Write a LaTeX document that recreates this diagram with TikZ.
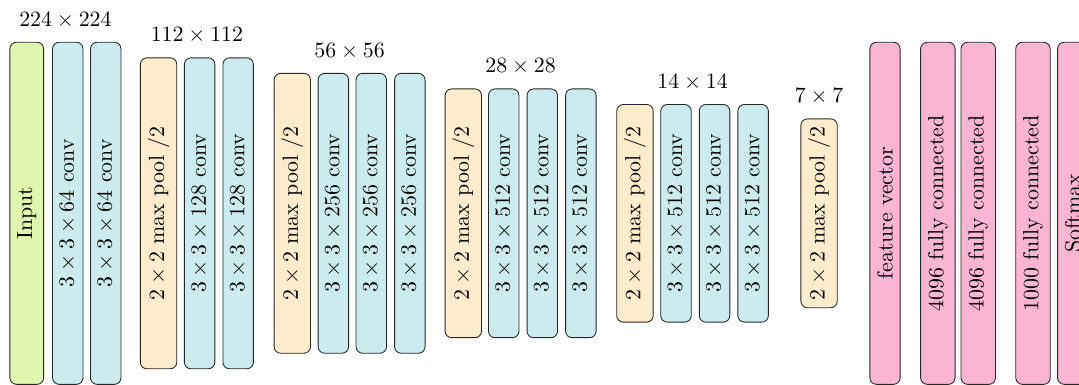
\documentclass[tikz,border=0pt]{standalone}
\usepackage{tikz}
\usetikzlibrary{calc}

\definecolor{inputcol}{RGB}{224,245,174}
\definecolor{convcol}{RGB}{204,235,238}
\definecolor{poolcol}{RGB}{255,236,204}
\definecolor{fccol}{RGB}{250,181,211}

\tikzstyle{layer}=[draw=black!85, rotate=90, rounded corners=3pt, align=center]
\tikzstyle{inlayer}=[layer, fill=inputcol]
\tikzstyle{conv}=[layer, fill=convcol]
\tikzstyle{pool}=[layer, fill=poolcol]
\tikzstyle{fc}=[layer, fill=fccol]
\tikzstyle{size}=[font=\normalsize]

\begin{document}
\begin{tikzpicture}

    \useasboundingbox (0,-2.76) rectangle (17.35,3.43);
    \clip (0,-2.76) rectangle (17.35,3.43);

    \node[inlayer, minimum width=5.5cm] (in) at (0.43,0) {Input};

    % conv blocks
    \foreach \x/\len/\name/\ch in {1.09/5.5/c1a/64, 1.70/5.5/c1b/64,
                                  3.21/5/c2a/128, 3.83/5/c2b/128,
                                  5.36/4.5/c3a/256, 5.97/4.5/c3b/256, 6.59/4.5/c3c/256,
                                  8.10/4/c4a/512, 8.72/4/c4b/512, 9.34/4/c4c/512,
                                  10.87/3.5/c5a/512, 11.49/3.5/c5b/512, 12.11/3.5/c5c/512}
        \node[conv, minimum width=\len cm] (\name) at (\x,0) {$3\times3\times\ch$ conv};

    % max pooling
    \foreach \x/\len/\name in {2.55/5/p1, 4.70/4.5/p2, 7.45/4/p3, 10.21/3.5/p4, 13.17/3/p5}
        \node[pool, minimum width=\len cm] (\name) at (\x,0) {$2\times2$ max pool /2};

    % classifier
    \foreach \x/\name/\txt in {14.23/fv/{feature vector}, 15.08/fc1/{4096 fully connected},
                              15.73/fc2/{4096 fully connected}, 16.61/fc3/{1000 fully connected},
                              17.25/sm/{Softmax}}
        \node[fc, minimum width=5.5cm] (\name) at (\x,0) {\txt};

    % resolution of each stage
    \foreach \first/\last/\n in {in/c1b/224, p1/c2b/112, p2/c3c/56, p3/c4c/28, p4/c5c/14, p5/p5/7}
        \path ($(\first.north east)!0.5!(\last.south east)$) node[size, above=1mm] (s\n) {$\n\times\n$};

\end{tikzpicture}
\end{document}
